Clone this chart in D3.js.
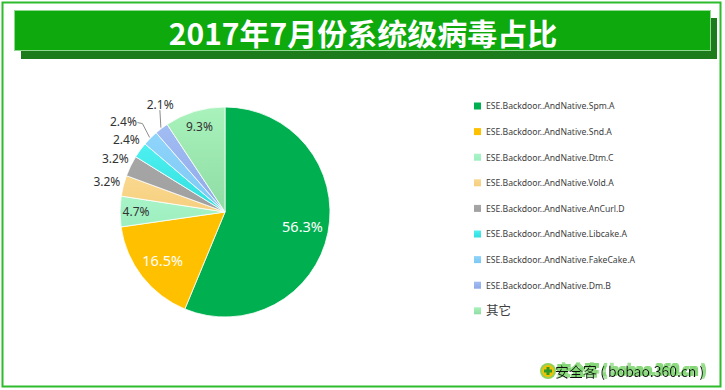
<!DOCTYPE html>
<html lang="zh">
<head>
    <meta charset="UTF-8">
    <title>2017年7月份系统级病毒占比</title>
    <script src="https://d3js.org/d3.v7.min.js"></script>
    <style>
        body { margin: 0; background: #fff; }
        svg { display: block; font-family: "Noto Sans", "Noto Sans CJK SC", sans-serif; }
    </style>
</head>
<body>
<div id="chart"></div>
<script>
    // chart data
    const title = "2017年7月份系统级病毒占比";
    const names = [
        "ESE.Backdoor..AndNative.Spm.A",
        "ESE.Backdoor..AndNative.Snd.A",
        "ESE.Backdoor..AndNative.Dtm.C",
        "ESE.Backdoor..AndNative.Vold.A",
        "ESE.Backdoor..AndNative.AnCurl.D",
        "ESE.Backdoor..AndNative.Libcake.A",
        "ESE.Backdoor..AndNative.FakeCake.A",
        "ESE.Backdoor..AndNative.Dm.B",
        "其它"
    ];
    const shares = [56.3, 16.5, 4.7, 3.2, 3.2, 2.4, 2.4, 2.1, 9.3];
    const colors = ["#00b050", "#ffc000", "#a8f4c8", "#f9d88e", "#a6a6a6", "#4ef0f0", "#8fd4fb", "#a2bdf3", "#a9f2bc"];
    const colorsDark = ["#00b050", "#ffc000", "#9ceebf", "#f6cf80", "#a0a0a0", "#30dede", "#7cc8f4", "#8ea9e8", "#8edca4"];

    const W = 725, H = 390;
    const svg = d3.select("#chart").append("svg")
        .attr("width", W)
        .attr("height", H);

    // outer frame
    svg.append("rect")
        .attr("x", 2.5).attr("y", 2.5)
        .attr("width", 718).attr("height", 384)
        .attr("fill", "none")
        .attr("stroke", "#2cbc2c")
        .attr("stroke-width", 2);

    // title banner with shadow
    svg.append("rect")
        .attr("x", 21).attr("y", 18)
        .attr("width", 696).attr("height", 41)
        .attr("fill", "#1c7c1c");
    svg.append("rect")
        .attr("x", 14.5).attr("y", 10.5)
        .attr("width", 696).attr("height", 40)
        .attr("fill", "#0da90d")
        .attr("stroke", "#8fd98f")
        .attr("stroke-width", 1);
    svg.append("text")
        .attr("x", 363).attr("y", 45)
        .attr("text-anchor", "middle")
        .attr("fill", "#fff")
        .style("font-family", "'Noto Sans CJK SC', sans-serif")
        .style("font-weight", "bold")
        .style("font-size", "30px")
        .text(title);

    // gradients for the slices
    const defs = svg.append("defs");
    colors.forEach((c, i) => {
        const g = defs.append("linearGradient")
            .attr("id", "grad" + i)
            .attr("x1", 0).attr("y1", 0).attr("x2", 0).attr("y2", 1);
        g.append("stop").attr("offset", "0%").attr("stop-color", c);
        g.append("stop").attr("offset", "100%").attr("stop-color", colorsDark[i]);
    });

    // green glow used by the watermark
    const glow = defs.append("filter").attr("id", "glow")
        .attr("x", "-10%").attr("y", "-40%").attr("width", "120%").attr("height", "180%");
    glow.append("feMorphology").attr("in", "SourceAlpha").attr("operator", "dilate").attr("radius", 1.2).attr("result", "thick");
    glow.append("feOffset").attr("in", "thick").attr("dx", 2).attr("dy", -2).attr("result", "off");
    glow.append("feFlood").attr("flood-color", "#66cc55").attr("flood-opacity", 0.8);
    glow.append("feComposite").attr("in2", "off").attr("operator", "in").attr("result", "green");
    const mg = glow.append("feMerge");
    mg.append("feMergeNode").attr("in", "green");
    mg.append("feMergeNode").attr("in", "SourceGraphic");

    // pie
    const cx = 225, cy = 212, R = 105;
    const data = shares.map((v, i) => ({ name: names[i], value: v, i: i }));
    const pie = d3.pie().value(d => d.value).sort(null);
    const arcs = pie(data);
    const arc = d3.arc().innerRadius(0).outerRadius(R);

    const g = svg.append("g").attr("transform", `translate(${cx},${cy})`);
    g.selectAll("path.slice")
        .data(arcs)
        .join("path")
        .attr("class", "slice")
        .attr("d", arc)
        .attr("fill", d => `url(#grad${d.data.i})`)
        .attr("stroke", "#fff")
        .attr("stroke-width", 0.8);

    // label placement: radius per slice kind, small tweaks for the crowded ones
    const leader = { 6: { r: 136, da: -3 }, 7: { r: 125, da: 6 } };
    function labelPos(d) {
        const mid = (d.startAngle + d.endAngle) / 2;
        let r, a = mid;
        if (d.data.value >= 10) r = 79;
        else if (d.data.value >= 4.5) r = 89;
        else r = 122;
        if (leader[d.data.i]) {
            r = leader[d.data.i].r;
            a = mid + leader[d.data.i].da * Math.PI / 180;
        }
        return [Math.sin(a) * r, -Math.cos(a) * r];
    }

    // leader lines
    arcs.filter(d => leader[d.data.i]).forEach(d => {
        const mid = (d.startAngle + d.endAngle) / 2;
        const p0 = [Math.sin(mid) * (R + 1), -Math.cos(mid) * (R + 1)];
        const p = labelPos(d);
        let pts;
        if (d.data.i === 6) {
            pts = [p0, [p[0] + 19, p[1] + 2], [p[0] + 14, p[1] + 1]];
        } else {
            pts = [p0, [p0[0] - 1, p[1] + 5]];
        }
        g.append("path")
            .attr("d", d3.line()(pts))
            .attr("fill", "none")
            .attr("stroke", "#8c8c8c")
            .attr("stroke-width", 1);
    });

    g.selectAll("text.lbl")
        .data(arcs)
        .join("text")
        .attr("class", "lbl")
        .attr("transform", d => `translate(${labelPos(d)})`)
        .attr("text-anchor", "middle")
        .attr("dy", "0.35em")
        .attr("fill", d => d.data.value >= 10 ? "#fff" : "#333")
        .style("font-size", d => d.data.value >= 10 ? "14.5px" : "12px")
        .text(d => d.data.value.toFixed(1) + "%");

    // legend
    const legend = svg.append("g").attr("transform", "translate(474,106)");
    const row = legend.selectAll("g")
        .data(data)
        .join("g")
        .attr("transform", d => `translate(0,${d.i * 25.6})`);
    row.append("rect")
        .attr("x", 0).attr("y", -3.5)
        .attr("width", 7).attr("height", 7)
        .attr("fill", d => `url(#grad${d.i})`);
    row.append("text")
        .attr("transform", d => d.i === 8 ? "translate(12,0)" : "translate(12,0) scale(0.88,1)")
        .attr("dy", "0.35em")
        .attr("fill", "#404040")
        .style("font-size", d => d.i === 8 ? "12.5px" : "9.8px")
        .text(d => d.name);

    // watermark
    const wm = svg.append("g").attr("transform", "translate(548,371)");
    wm.append("circle").attr("r", 8).attr("fill", "#8fd15a");
    wm.append("circle").attr("r", 6).attr("fill", "#f2c200");
    wm.append("path")
        .attr("d", "M-1.5,-4H1.5V-1.5H4V1.5H1.5V4H-1.5V1.5H-4V-1.5H-1.5Z")
        .attr("fill", "#2a9a2a");
    wm.append("text")
        .attr("x", 7).attr("y", 6)
        .attr("fill", "#111")
        .attr("filter", "url(#glow)")
        .style("font-family", "'Noto Sans CJK SC', sans-serif")
        .style("font-size", "14px")
        .text("安全客 ( bobao.360.cn )");
</script>
</body>
</html>
